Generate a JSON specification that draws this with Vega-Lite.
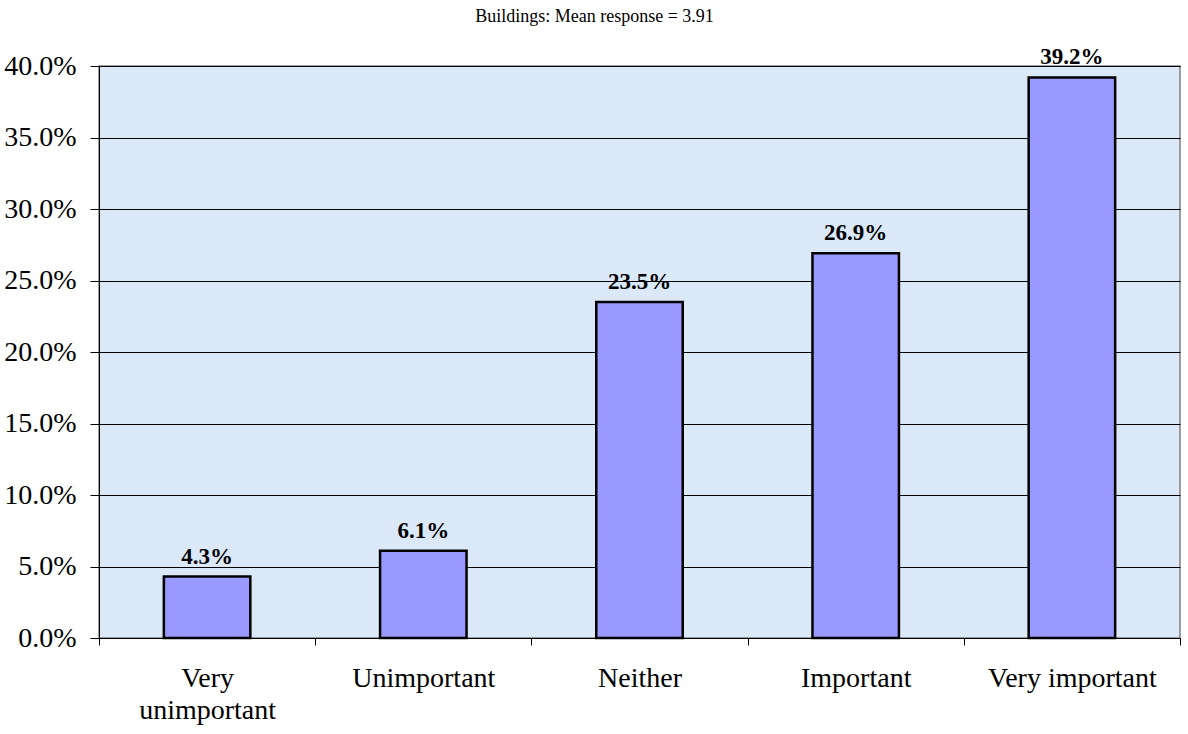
{
  "$schema": "https://vega.github.io/schema/vega-lite/v6.json",
  "autosize": "none",
  "width": 1081,
  "height": 572,
  "padding": {"left": 99, "top": 66, "right": 8, "bottom": 96},
  "background": "white",
  "title": {
    "text": "Buildings: Mean response = 3.91",
    "font": "Liberation Serif",
    "fontSize": 18,
    "fontWeight": "normal",
    "color": "black",
    "anchor": "middle",
    "dx": -45,
    "offset": 20
  },
  "config": {
    "view": {"fill": "#dae8f8", "stroke": "#808080", "strokeWidth": 1.5}
  },
  "data": {
    "values": [
      {"category": "Very unimportant", "pct": 0.043},
      {"category": "Unimportant", "pct": 0.061},
      {"category": "Neither", "pct": 0.235},
      {"category": "Important", "pct": 0.269},
      {"category": "Very important", "pct": 0.392}
    ]
  },
  "encoding": {
    "x": {
      "field": "category",
      "type": "nominal",
      "sort": null,
      "scale": {"paddingInner": 0, "paddingOuter": 0},
      "axis": {
        "title": null,
        "labelAngle": 0,
        "labelFont": "Liberation Serif",
        "labelFontSize": 28,
        "labelColor": "black",
        "tickBand": "extent",
        "tickSize": 7,
        "tickColor": "black",
        "domainColor": "black",
        "labelPadding": 19,
        "labelLineHeight": 32,
        "labelExpr": "datum.label == 'Very unimportant' ? ['Very', 'unimportant'] : datum.label",
        "grid": false
      }
    },
    "y": {
      "field": "pct",
      "type": "quantitative",
      "scale": {"domain": [0, 0.4], "nice": false},
      "axis": {
        "title": null,
        "format": ".1%",
        "values": [0, 0.05, 0.1, 0.15, 0.2, 0.25, 0.3, 0.35, 0.4],
        "labelFont": "Liberation Serif",
        "labelFontSize": 28,
        "labelColor": "black",
        "labelOverlap": false,
        "tickSize": 9,
        "tickColor": "black",
        "domainColor": "black",
        "labelPadding": 14,
        "grid": true,
        "gridColor": "black",
        "gridOpacity": 1,
        "gridWidth": 1
      }
    }
  },
  "layer": [
    {
      "mark": {"type": "bar", "width": {"band": 0.4}, "fill": "#9999ff", "stroke": "black", "strokeWidth": 2.5}
    },
    {
      "mark": {"type": "text", "font": "Liberation Serif", "fontSize": 23, "fontWeight": "bold", "color": "black", "baseline": "bottom", "dy": -8},
      "encoding": {"text": {"field": "pct", "type": "quantitative", "format": ".1%"}}
    }
  ]
}
